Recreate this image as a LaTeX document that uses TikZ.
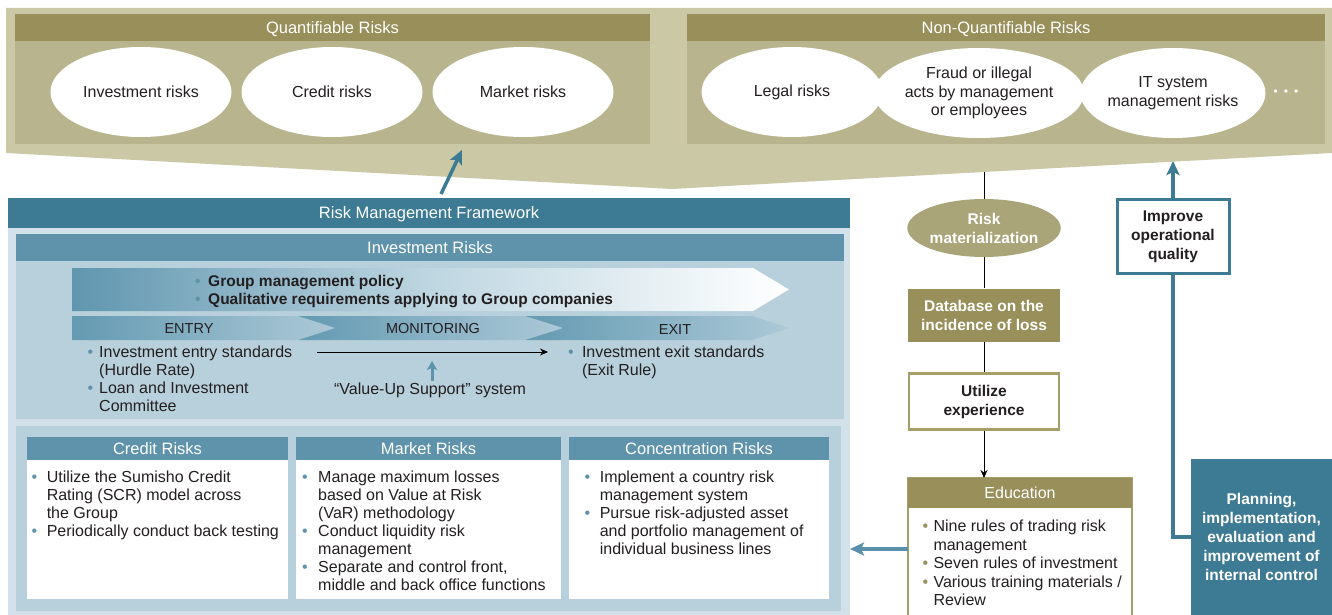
\documentclass[tikz,border=0pt]{standalone}
\usepackage{fontspec}
\setmainfont{Liberation Sans}
\usetikzlibrary{arrows.meta,shapes.geometric}
\definecolor{bgk}{RGB}{203,200,166}
\definecolor{pnl}{RGB}{184,181,142}
\definecolor{olv}{RGB}{152,143,90}
\definecolor{olvl}{RGB}{170,165,120}
\definecolor{olvb}{RGB}{165,158,105}
\definecolor{tealD}{RGB}{61,122,147}
\definecolor{tealM}{RGB}{94,147,171}
\definecolor{arrL}{RGB}{90,145,170}
\definecolor{bluL}{RGB}{183,208,220}
\definecolor{bluXL}{RGB}{211,226,234}
\definecolor{gA}{RGB}{96,150,175}
\definecolor{sA}{RGB}{100,154,178}
\definecolor{sB}{RGB}{172,201,215}
\definecolor{txt}{RGB}{35,31,32}
\newlength{\bw}
\colorlet{bcol}{tealM}
\newcommand{\bu}{\makebox[\bw][l]{\textcolor{bcol}{\textbullet}}}
\newcommand{\nb}{\hspace*{\bw}}
\tikzset{
  x=1pt, y=-1pt,
  rbox/.style={anchor=north west, inner sep=0pt, outer sep=0pt},
  hdr/.style={rbox, text=white, text depth=0pt, font=\fontsize{16.5}{19}\selectfont},
  ell/.style={ellipse, fill=white, inner sep=0pt, minimum width=181pt, minimum height=90pt, align=center, text=txt, font=\fontsize{16}{18.5}\selectfont},
  bld/.style={align=center, font=\bfseries\fontsize{15.5}{19}\selectfont},
  lst/.style={anchor=base west, inner sep=0pt, text=txt, font=\fontsize{16}{18}\selectfont},
  stage/.style={text=txt, font=\fontsize{14.5}{17}\selectfont},
  thk/.style={line width=4pt, tealD, -{Stealth[length=14pt,width=13pt,inset=3pt]}},
  thn/.style={line width=0.9pt, black, -{Stealth[length=8pt,width=7pt]}}
}
\begin{document}
\begin{tikzpicture}
\useasboundingbox (0,0) rectangle (1332,615);
\clip (0,0) rectangle (1332,615);
\fill[white] (0,0) rectangle (1332,615);
% background
\fill[bgk] (6,8) -- (1332,8) -- (1332,153) -- (672,189) -- (6,153) -- cycle;
\coordinate (vb) at (984,172);
\coordinate (ib) at (1173,161);
\coordinate (qa) at (462,150);
% quantifiable
\node[rbox, fill=pnl, minimum width=635pt, minimum height=130pt] (qp) at (15,14) {};
\node[hdr, fill=olv, minimum width=635pt, minimum height=27pt] (qh) at (15,14) {Quantifiable Risks};
\node[ell] (e1) at (141,92) {Investment risks};
\node[ell] (e2) at (332,92) {Credit risks};
\node[ell] (e3) at (523,92) {Market risks};
% non-quantifiable
\node[rbox, fill=pnl, minimum width=638pt, minimum height=130pt] (np) at (687,14) {};
\node[hdr, fill=olv, minimum width=638pt, minimum height=27pt] (nh) at (687,14) {Non-Quantifiable Risks};
\node[ell] (e4) at (792,92) {Legal risks};
\node[ell] (e5) at (979,93) {Fraud or illegal\\acts by management\\or employees};
\node[ell] (e6) at (1173,93) {IT system\\management risks};
\node[text=white, font=\fontsize{12}{12}\selectfont] (dots) at (1286,93) {•\hspace{6pt}•\hspace{6pt}•};
% framework
\node[rbox, fill=bluXL, minimum width=842pt, minimum height=400pt] (fb) at (8,228) {};
\node[hdr, fill=tealD, minimum width=842pt, minimum height=30pt] (rmf) at (8,198) {Risk Management Framework};
\node[rbox, fill=bluL, minimum width=828pt, minimum height=185pt] (ip) at (16,234) {};
\node[hdr, fill=tealM, minimum width=828pt, minimum height=27pt] (ih) at (16,234) {Investment Risks};
% big gradient arrow
\shade[left color=gA, right color=white, middle color={rgb,255:red,190;green,214;blue,225}] (72,268) -- (753,268) -- (789,289.5) -- (753,311) -- (72,311) -- cycle;
\node[lst, font=\bfseries\fontsize{15.5}{18}\selectfont] (gp) at (195,286.5) {\setlength{\bw}{13pt}\begin{tabular}[t]{@{}l@{}}\bu Group management policy\\ \bu Qualitative requirements applying to Group companies\end{tabular}};
% stages
\shade[left color=sA, right color=sB] (525,316) -- (752,316) -- (789,328) -- (752,340) -- (525,340) -- cycle;
\shade[left color=sA, right color=sB] (298,316) -- (525,316) -- (563,328) -- (525,340) -- (298,340) -- cycle;
\shade[left color=sA, right color=sB] (72,316) -- (298,316) -- (335,328) -- (298,340) -- (72,340) -- cycle;
\node[stage] (st1) at (189,329) {ENTRY};
\node[stage] (st2) at (433,329) {MONITORING};
\node[stage] (st3) at (675,330) {EXIT};
\node[lst] (en) at (87.3,357.5) {\setlength{\bw}{11.7pt}\begin{tabular}[t]{@{}l@{}}\bu Investment entry standards\\ \nb (Hurdle Rate)\\ \bu Loan and Investment\\ \nb Committee\end{tabular}};
\node[lst] (ex) at (568,357.5) {\setlength{\bw}{13.8pt}\begin{tabular}[t]{@{}l@{}}\bu Investment exit standards\\ \nb (Exit Rule)\end{tabular}};
\coordinate (ma) at (317,352);
\coordinate (mb) at (548,352);
\draw[thn] (ma) -- (mb);
\node[text=txt, font=\fontsize{16}{18}\selectfont, inner sep=1pt] (vu) at (430,390) {“Value-Up Support” system};
\coordinate (vt) at (432,361);
\draw[line width=3pt, tealM, -{Stealth[length=9pt,width=10pt,inset=2pt]}] (vu.north -| vt) -- (vt);
% lower panel
\node[rbox, fill=bluL, minimum width=825pt, minimum height=185pt] (lp) at (16,426) {};
\node[rbox, fill=white, minimum width=261pt, minimum height=162pt] (cb) at (27,437) {};
\node[hdr, fill=tealM, minimum width=261pt, minimum height=23pt] (ch) at (27,437) {Credit Risks};
\node[rbox, fill=white, minimum width=265pt, minimum height=162pt] (mkb) at (296,437) {};
\node[hdr, fill=tealM, minimum width=265pt, minimum height=23pt] (mkh) at (296,437) {Market Risks};
\node[rbox, fill=white, minimum width=260pt, minimum height=162pt] (cnb) at (569,437) {};
\node[hdr, fill=tealM, minimum width=260pt, minimum height=23pt] (cnh) at (569,437) {Concentration Risks};
\node[lst] (cl) at (31.3,482.5) {\setlength{\bw}{15.3pt}\begin{tabular}[t]{@{}l@{}}\bu Utilize the Sumisho Credit\\ \nb Rating (SCR) model across\\ \nb the Group\\ \bu Periodically conduct back testing\end{tabular}};
\node[lst] (ml) at (301.8,482.5) {\setlength{\bw}{16.2pt}\begin{tabular}[t]{@{}l@{}}\bu Manage maximum losses\\ \nb based on Value at Risk\\ \nb (VaR) methodology\\ \bu Conduct liquidity risk\\ \nb management\\ \bu Separate and control front,\\ \nb middle and back office functions\end{tabular}};
\node[lst] (nl) at (584.3,482.5) {\setlength{\bw}{15.3pt}\begin{tabular}[t]{@{}l@{}}\bu Implement a country risk\\ \nb management system\\ \bu Pursue risk-adjusted asset\\ \nb and portfolio management of\\ \nb individual business lines\end{tabular}};
% right column
\node[ellipse, fill=olvl, text=white, minimum width=151pt, minimum height=58pt, inner sep=0pt, bld] (rm) at (984,228) {Risk\\materialization};
\node[fill=olv, text=white, minimum width=152pt, minimum height=53pt, inner sep=0pt, bld] (db) at (984,315) {Database on the\\incidence of loss};
\node[draw=olvb, line width=2.5pt, fill=white, text=txt, minimum width=150pt, minimum height=56pt, inner sep=0pt, bld] (ut) at (984,401.5) {Utilize\\experience};
\node[rbox, draw=olvb, line width=2pt, fill=white, minimum width=224pt, minimum height=142pt] (edu) at (908,478) {};
\node[hdr, fill=olv, minimum width=224pt, minimum height=30pt, font=\fontsize{16}{19}\selectfont] (edh) at (908,478) {Education};
\node[lst] (el) at (922.3,531.5) {\colorlet{bcol}{olv}\setlength{\bw}{11pt}\fontsize{16}{18.5}\selectfont\begin{tabular}[t]{@{}l@{}}\bu Nine rules of trading risk\\ \nb management\\ \bu Seven rules of investment\\ \bu Various training materials /\\ \nb Review\end{tabular}};
\node[draw=tealD, line width=3pt, fill=white, text=txt, minimum width=112pt, minimum height=74pt, inner sep=0pt, bld] (imp) at (1173,236.5) {Improve\\operational\\quality};
\node[rbox, fill=tealD, text=white, minimum width=141pt, minimum height=156pt, bld] (plan) at (1191,459) {Planning,\\implementation,\\evaluation and\\improvement of\\internal control};
% connectors
\draw[black, line width=0.9pt] (vb) -- (rm.north);
\draw[black, line width=0.9pt] (rm.south) -- (db.north);
\draw[black, line width=0.9pt] (db.south) -- (ut.north);
\draw[thn] (ut.south) -- (edh.north -| ut.south);
\draw[thk] (imp.north) -- (ib);
\draw[line width=4pt, tealD] (plan.west) -| (imp.south);
\coordinate (ea) at (850,549);
\draw[thk, arrL] (edu.west) -- (ea);
\draw[thk, line width=3.5pt] ([xshift=433pt,yshift=4pt]rmf.north west) -- (qa);
\end{tikzpicture}
\end{document}
